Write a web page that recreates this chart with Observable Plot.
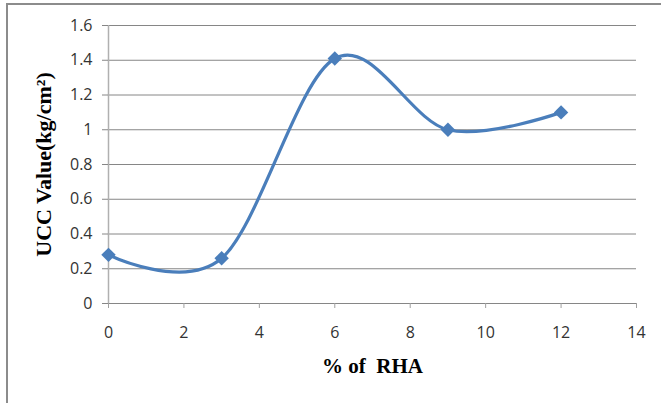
<!DOCTYPE html>
<html>
<head>
<meta charset="utf-8">
<script src="https://cdn.jsdelivr.net/npm/d3@7"></script>
<script src="https://cdn.jsdelivr.net/npm/@observablehq/plot@0.6"></script>
<style>
  html, body { margin: 0; padding: 0; background: #fff; overflow: hidden; }
  #wrap { position: relative; width: 661px; height: 403px; }
  #border { position: absolute; left: 6px; top: 3px; width: 700px; height: 500px;
            border-left: 2px solid #8c8c8c; border-top: 2px solid #8c8c8c; box-sizing: border-box; pointer-events: none; }
  #chart { position: absolute; left: 0; top: 0; }
</style>
</head>
<body>
<div id="wrap"><div id="chart"></div><div id="border"></div></div>
<script>
// Data
const rhaPercent = [0, 3, 6, 9, 12];
const uccValue = [0.28, 0.26, 1.41, 1.0, 1.1];
const xTicks = [0, 2, 4, 6, 8, 10, 12, 14];
const yTicks = [0, 0.2, 0.4, 0.6, 0.8, 1.0, 1.2, 1.4, 1.6];
const xTitle = "% of\u00a0 RHA";
const yTitle = "UCC Value(kg/cm\u00b2)";

const data = rhaPercent.map((x, i) => ({x, y: uccValue[i]}));
const blue = "#4a7ebb";
const grid = "#868686";
const tickFont = "'Open Sans', 'Liberation Sans', sans-serif";
const titleFont = "'Liberation Serif', 'Times New Roman', serif";

const chart = Plot.plot({
  width: 661,
  height: 403,
  marginLeft: 108,
  marginRight: 25,
  marginTop: 25,
  marginBottom: 100,
  style: {fontFamily: tickFont, fontSize: "16px", color: "#333", background: "transparent"},
  x: {domain: [0, 14]},
  y: {domain: [0, 1.6]},
  marks: [
    Plot.ruleY(yTicks, {stroke: grid, strokeWidth: 1}),
    Plot.ruleX([0], {stroke: "#b0b0b0", strokeWidth: 1.5}),
    Plot.axisY({ticks: yTicks, tickSize: 6, tickPadding: 10, stroke: grid, fontSize: 16,
      tickFormat: d => String(+d.toFixed(1)), label: null}),
    Plot.axisX({ticks: xTicks, tickSize: 5, tickPadding: 18, stroke: "#a0a0a0", fontSize: 16,
      tickFormat: d => String(d), label: null}),
    Plot.line(data, {x: "x", y: "y", curve: "cardinal", tension: 0, stroke: blue, strokeWidth: 3.2}),
    Plot.dot(data, {x: "x", y: "y", symbol: "diamond2", fill: blue, stroke: "none", r: 6.5}),
    Plot.text([xTitle], {frameAnchor: "bottom", dy: 69, fontSize: 21, fontWeight: "bold",
      fontFamily: titleFont, fill: "#000"}),
    Plot.text([yTitle], {frameAnchor: "left", textAnchor: "middle", rotate: -90, dx: -65, fontSize: 22,
      fontWeight: "bold", fontFamily: titleFont, fill: "#000"})
  ]
});
document.getElementById("chart").appendChild(chart);
</script>
</body>
</html>
